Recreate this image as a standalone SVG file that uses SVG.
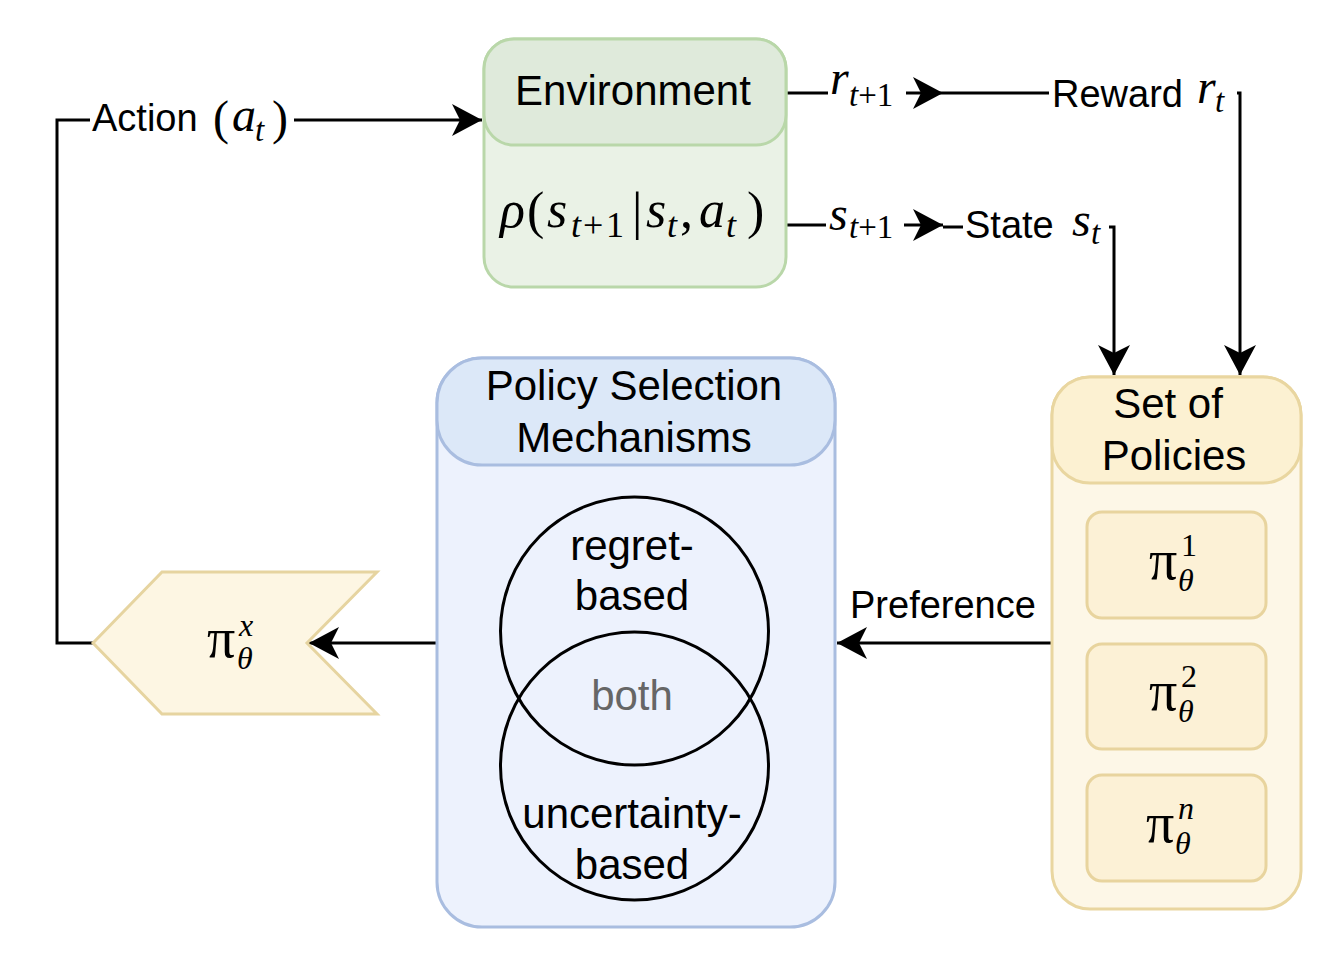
<svg xmlns="http://www.w3.org/2000/svg" width="1338" height="954" viewBox="0 0 1338 954">
<style>
.t{font-family:"Liberation Sans",Arial,sans-serif;fill:#000}
.n{font-size:42px}
.e{font-size:38px}
.m{font-family:"Liberation Serif","Times New Roman",serif;fill:#000}
.i{font-style:italic}
.c{stroke:#000;stroke-width:3;fill:none}
.bg{fill:#fff}
</style>
<defs>
<marker id="ah" markerUnits="userSpaceOnUse" markerWidth="32" markerHeight="34" viewBox="0 0 32 34" refX="30" refY="17" orient="auto">
<path d="M0,1 L30,17 L0,33 L8,17 Z" fill="#000"/>
</marker>
</defs>
<rect width="1338" height="954" fill="#fff"/>

<g id="connectors">
<path class="c" d="M93,643 H57 V120 H482" marker-end="url(#ah)"/>
<path class="c" d="M786,93 H943" marker-end="url(#ah)"/>
<path class="c" d="M943,93 H1240 V375" marker-end="url(#ah)"/>
<path class="c" d="M786,225 H943" marker-end="url(#ah)"/>
<path class="c" d="M943,227 H1114 V375" marker-end="url(#ah)"/>
<path class="c" d="M1052,643 H837" marker-end="url(#ah)"/>
<path class="c" d="M437,643 H309" marker-end="url(#ah)"/>
<rect class="bg" x="90" y="98" width="204" height="48"/>
<text class="t e" x="92" y="131">Action</text>
<text class="m" font-size="48" x="213" y="134">(</text>
<text class="m i" font-size="48" x="232" y="131">a</text>
<text class="m i" font-size="33" x="255" y="141">t</text>
<text class="m" font-size="48" x="272" y="134">)</text>
<rect class="bg" x="828" y="72" width="78" height="40"/>
<text class="m i" font-size="48" x="830" y="94">r</text>
<text class="m" font-size="33" x="849" y="106"><tspan class="i">t</tspan>+1</text>
<rect class="bg" x="1049" y="74" width="188" height="44"/>
<text class="t e" x="1052" y="107">Reward</text>
<text class="m i" font-size="48" x="1197" y="103">r</text>
<text class="m i" font-size="33" x="1215" y="112">t</text>
<rect class="bg" x="826" y="204" width="78" height="40"/>
<text class="m i" font-size="48" x="829" y="230">s</text>
<text class="m" font-size="33" x="849" y="238"><tspan class="i">t</tspan>+1</text>
<rect class="bg" x="963" y="204" width="146" height="46"/>
<text class="t e" x="965" y="238">State</text>
<text class="m i" font-size="48" x="1072" y="236">s</text>
<text class="m i" font-size="33" x="1091" y="244">t</text>
<text class="t e" x="850" y="618">Preference</text>
</g>

<g id="environment">
<rect x="484" y="39" width="302" height="248" rx="30" fill="#eaf2e6" stroke="#b9d7a9" stroke-width="3"/>
<rect x="484" y="39" width="302" height="106" rx="30" fill="#dfeadb" stroke="#b9d7a9" stroke-width="3"/>
<text class="t n" x="633" y="105" text-anchor="middle">Environment</text>
<text class="m i" font-size="52" x="500" y="227">ρ</text>
<text class="m" font-size="52" x="527" y="228">(</text>
<text class="m i" font-size="52" x="547" y="227">s</text>
<text class="m" font-size="36" x="571" y="237"><tspan class="i">t</tspan><tspan x="583">+</tspan><tspan x="606">1</tspan></text>
<text class="m" font-size="52" x="632" y="229">|</text>
<text class="m i" font-size="52" x="646" y="227">s</text>
<text class="m i" font-size="36" x="667" y="237">t</text>
<text class="m" font-size="52" x="680" y="227">,</text>
<text class="m i" font-size="52" x="699" y="227">a</text>
<text class="m i" font-size="36" x="726" y="237">t</text>
<text class="m" font-size="52" x="747" y="228">)</text>
</g>

<g id="policy-selection">
<rect x="437" y="358" width="398" height="569" rx="45" fill="#edf2fd" stroke="#a9bde0" stroke-width="3"/>
<rect x="437" y="358" width="398" height="107" rx="45" fill="#dce8f8" stroke="#a9bde0" stroke-width="3"/>
<text class="t n" x="634" y="400" text-anchor="middle">Policy Selection</text>
<text class="t n" x="634" y="452" text-anchor="middle">Mechanisms</text>
</g>

<g id="regret-based">
<circle cx="634.5" cy="631" r="134" fill="none" stroke="#000" stroke-width="3"/>
<text class="t n" x="632" y="560" text-anchor="middle">regret-</text>
<text class="t n" x="632" y="610" text-anchor="middle">based</text>
</g>

<g id="uncertainty-based">
<circle cx="634.5" cy="766" r="134" fill="none" stroke="#000" stroke-width="3"/>
<text class="t n" x="632" y="828" text-anchor="middle">uncertainty-</text>
<text class="t n" x="632" y="879" text-anchor="middle">based</text>
</g>

<g id="both">
<text class="t n" x="632" y="710" text-anchor="middle" style="fill:#666">both</text>
</g>

<g id="set-of-policies">
<rect x="1052" y="377" width="249" height="532" rx="38" fill="#fdf7e7" stroke="#e9d6a0" stroke-width="3"/>
<rect x="1052" y="377" width="249" height="106" rx="38" fill="#fcf1d2" stroke="#e9d6a0" stroke-width="3"/>
<text class="t n" x="1168" y="418" text-anchor="middle">Set of</text>
<text class="t n" x="1174" y="470" text-anchor="middle">Policies</text>
</g>

<g id="policy-1">
<rect x="1087" y="512" width="179" height="106" rx="15" fill="#fcf1d6" stroke="#e8d49e" stroke-width="3"/>
<text class="m" font-size="56" x="1149" y="579">π</text>
<text class="m" font-size="32" x="1181" y="556">1</text>
<text class="m i" font-size="32" x="1178" y="591">θ</text>
</g>

<g id="policy-2">
<rect x="1087" y="644" width="179" height="105" rx="15" fill="#fcf1d6" stroke="#e8d49e" stroke-width="3"/>
<text class="m" font-size="56" x="1149" y="710">π</text>
<text class="m" font-size="32" x="1181" y="687">2</text>
<text class="m i" font-size="32" x="1178" y="722">θ</text>
</g>

<g id="policy-n">
<rect x="1087" y="775" width="179" height="106" rx="15" fill="#fcf1d6" stroke="#e8d49e" stroke-width="3"/>
<text class="m" font-size="56" x="1146" y="842">π</text>
<text class="m i" font-size="32" x="1178" y="819">n</text>
<text class="m i" font-size="32" x="1175" y="854">θ</text>
</g>

<g id="selected-policy">
<path d="M93,643 L162,572 L377,572 L307,643 L377,714 L162,714 Z" fill="#fdf6e3" stroke="#e6d4a0" stroke-width="3"/>
<text class="m" font-size="56" x="207" y="657">π</text>
<text class="m i" font-size="32" x="239" y="636">x</text>
<text class="m i" font-size="32" x="237" y="669">θ</text>
</g>
</svg>
